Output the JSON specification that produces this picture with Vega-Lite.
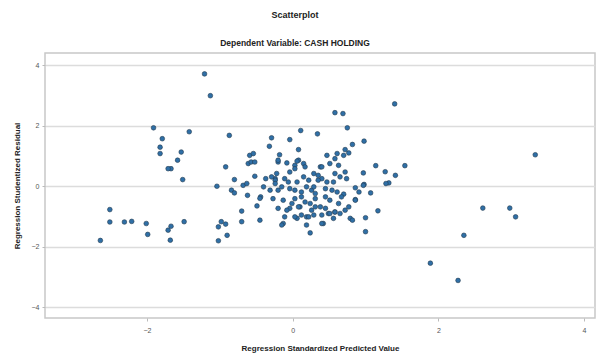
{
  "$schema": "https://vega.github.io/schema/vega-lite/v6.json",
  "width": 550,
  "height": 265,
  "autosize": {"type": "none"},
  "padding": {"left": 45, "top": 53, "right": 3, "bottom": 38},
  "background": "white",
  "title": {
    "text": "Scatterplot",
    "subtitle": "Dependent Variable: CASH HOLDING",
    "anchor": "middle",
    "dx": -25,
    "offset": 6,
    "font": "Liberation Sans",
    "fontSize": 9,
    "fontWeight": "bold",
    "color": "#222",
    "subtitleFont": "Liberation Sans",
    "subtitleFontSize": 8.5,
    "subtitleColor": "#222",
    "subtitleFontWeight": "bold",
    "subtitlePadding": 19
  },
  "config": {
    "view": {"stroke": "#c8c8c8", "strokeWidth": 1.5},
    "axis": {
      "labelFont": "Liberation Sans",
      "labelFontSize": 7,
      "labelColor": "#555",
      "titleFont": "Liberation Sans",
      "titleFontSize": 8,
      "titleFontWeight": "bold",
      "titleColor": "#222",
      "domain": false,
      "tickColor": "#bbb",
      "tickSize": 3,
      "gridColor": "#dcdcdc",
      "gridWidth": 1.5
    }
  },
  "data": {
    "values": [
      {"x": -1.21, "y": 3.71}, {"x": -1.13, "y": 2.99}, {"x": -1.91, "y": 1.93}, {"x": -1.42, "y": 1.80},
      {"x": -1.79, "y": 1.57}, {"x": -1.82, "y": 1.29}, {"x": -1.82, "y": 1.08}, {"x": -1.53, "y": 1.13},
      {"x": -1.58, "y": 0.86}, {"x": -1.67, "y": 0.58}, {"x": -1.71, "y": 0.58}, {"x": -1.51, "y": 0.22},
      {"x": -2.51, "y": -0.77}, {"x": -2.51, "y": -1.18}, {"x": -2.31, "y": -1.18}, {"x": -2.21, "y": -1.16},
      {"x": -2.01, "y": -1.23}, {"x": -1.99, "y": -1.59}, {"x": -2.64, "y": -1.79}, {"x": -1.67, "y": -1.32},
      {"x": -1.71, "y": -1.45}, {"x": -1.68, "y": -1.78}, {"x": -1.49, "y": -1.17}, {"x": -1.04, "y": 0.0},
      {"x": -0.92, "y": 0.64}, {"x": -0.87, "y": 1.68}, {"x": -1.02, "y": -1.34}, {"x": -0.98, "y": -1.17},
      {"x": -0.92, "y": -1.25}, {"x": -0.90, "y": -1.62}, {"x": -1.02, "y": -1.80}, {"x": -0.70, "y": -0.82},
      {"x": -0.70, "y": -1.17}, {"x": -0.45, "y": -1.12}, {"x": -0.49, "y": -0.65}, {"x": -0.80, "y": 0.22},
      {"x": -0.84, "y": -0.13}, {"x": -0.80, "y": -0.22}, {"x": -0.68, "y": 0.03}, {"x": -0.63, "y": 0.09},
      {"x": -0.62, "y": -0.30}, {"x": -0.59, "y": 1.02}, {"x": -0.54, "y": 1.08}, {"x": -0.61, "y": 0.75},
      {"x": -0.57, "y": 0.80}, {"x": -0.52, "y": 0.80}, {"x": -0.52, "y": 0.33}, {"x": -0.44, "y": -0.35},
      {"x": -0.40, "y": -0.02}, {"x": -0.37, "y": 0.25}, {"x": -0.32, "y": 1.32}, {"x": -0.29, "y": 1.60},
      {"x": -0.18, "y": 1.04}, {"x": -0.20, "y": 0.80}, {"x": -0.04, "y": 1.54}, {"x": 0.11, "y": 1.84},
      {"x": 0.08, "y": 1.21}, {"x": 0.34, "y": 1.73}, {"x": 0.08, "y": 0.86}, {"x": 0.03, "y": 0.69},
      {"x": 0.24, "y": -1.54}, {"x": -0.13, "y": -1.23}, {"x": 0.42, "y": -1.23}, {"x": 0.47, "y": 1.02},
      {"x": 0.38, "y": 0.64}, {"x": 0.49, "y": -0.90}, {"x": -0.45, "y": -0.40},
      {"x": 1.40, "y": 2.72}, {"x": 0.58, "y": 2.43}, {"x": 0.69, "y": 2.40}, {"x": 0.75, "y": 1.93},
      {"x": 0.98, "y": 1.49}, {"x": 0.82, "y": 1.38}, {"x": 0.72, "y": 1.21}, {"x": 0.77, "y": 1.10},
      {"x": 0.70, "y": 1.02}, {"x": 0.61, "y": 1.08}, {"x": 0.58, "y": 0.91}, {"x": 1.14, "y": 0.68},
      {"x": 1.54, "y": 0.68}, {"x": 1.27, "y": 0.48}, {"x": 0.97, "y": 0.44}, {"x": 1.41, "y": 0.36},
      {"x": 0.72, "y": 0.47}, {"x": 0.65, "y": 0.31}, {"x": 0.74, "y": 0.25}, {"x": 1.32, "y": 0.11},
      {"x": 1.28, "y": 0.09}, {"x": 0.98, "y": 0.06}, {"x": 0.86, "y": -0.05}, {"x": 0.91, "y": -0.19},
      {"x": 1.07, "y": -0.22}, {"x": 0.70, "y": -0.26}, {"x": 0.67, "y": -0.35}, {"x": 0.86, "y": -0.44},
      {"x": 1.17, "y": -0.81}, {"x": 1.00, "y": -1.04}, {"x": 1.00, "y": -1.50}, {"x": 0.77, "y": -0.68},
      {"x": 0.72, "y": -0.79}, {"x": 0.63, "y": -0.57}, {"x": 0.65, "y": -0.90}, {"x": 0.51, "y": -0.90},
      {"x": 0.58, "y": -0.85}, {"x": 0.79, "y": -1.06}, {"x": 0.82, "y": -1.12}, {"x": 0.29, "y": -0.95},
      {"x": 0.19, "y": -1.01}, {"x": 3.33, "y": 1.04}, {"x": 2.61, "y": -0.72}, {"x": 2.98, "y": -0.72},
      {"x": 3.06, "y": -1.01}, {"x": 2.35, "y": -1.62}, {"x": 1.89, "y": -2.54}, {"x": 2.27, "y": -3.11},
      {"x": -0.20, "y": 0.86}, {"x": -0.08, "y": 0.77}, {"x": 0.06, "y": 0.83}, {"x": 0.15, "y": 0.75},
      {"x": 0.17, "y": 0.64}, {"x": 0.03, "y": 0.58}, {"x": -0.04, "y": 0.47}, {"x": -0.22, "y": 0.42},
      {"x": 0.40, "y": 0.64}, {"x": 0.51, "y": 0.75}, {"x": 0.63, "y": 0.69}, {"x": 0.58, "y": 0.42},
      {"x": 0.29, "y": 0.42}, {"x": 0.35, "y": 0.36}, {"x": -0.24, "y": 0.25},
      {"x": -0.24, "y": 0.20}, {"x": -0.11, "y": 0.25}, {"x": 0.06, "y": 0.14}, {"x": 0.22, "y": 0.20},
      {"x": 0.40, "y": 0.25}, {"x": 0.56, "y": 0.14}, {"x": -0.20, "y": -0.13}, {"x": -0.04, "y": -0.08},
      {"x": 0.12, "y": -0.19}, {"x": 0.26, "y": -0.13}, {"x": 0.45, "y": -0.08}, {"x": 0.61, "y": -0.19},
      {"x": -0.27, "y": -0.41}, {"x": -0.13, "y": -0.46}, {"x": 0.03, "y": -0.41}, {"x": 0.17, "y": -0.52},
      {"x": 0.31, "y": -0.41}, {"x": 0.51, "y": -0.46}, {"x": -0.20, "y": -0.73}, {"x": -0.04, "y": -0.73},
      {"x": 0.10, "y": -0.68}, {"x": 0.26, "y": -0.79}, {"x": 0.45, "y": -0.73}, {"x": 0.58, "y": -0.85},
      {"x": -0.11, "y": -1.01}, {"x": 0.06, "y": -1.06}, {"x": 0.22, "y": -1.01}, {"x": 0.40, "y": -0.95},
      {"x": 0.56, "y": -1.06}, {"x": -0.15, "y": -1.28}, {"x": 0.19, "y": -1.28}, {"x": 0.40, "y": -1.23},
      {"x": 0.97, "y": 0.03}, {"x": 0.86, "y": -0.46},
      {"x": -0.29, "y": 0.31}, {"x": -0.24, "y": 0.09}, {"x": -0.31, "y": -0.13}, {"x": -0.15, "y": -0.02},
      {"x": -0.06, "y": 0.14}, {"x": 0.03, "y": -0.13}, {"x": 0.12, "y": -0.35}, {"x": 0.19, "y": -0.02},
      {"x": 0.31, "y": -0.24}, {"x": -0.01, "y": -0.57}, {"x": 0.08, "y": -0.68}, {"x": 0.31, "y": -0.68},
      {"x": -0.08, "y": -0.79}, {"x": 0.12, "y": -0.95}, {"x": 0.03, "y": -1.01},
      {"x": 0.15, "y": 0.31}, {"x": 0.29, "y": -0.02}, {"x": 0.24, "y": -0.57}, {"x": 0.35, "y": 0.20},
      {"x": 0.47, "y": 0.14}, {"x": 0.54, "y": -0.13}, {"x": 0.45, "y": -0.35}, {"x": 0.38, "y": -0.68}
    ]
  },
  "mark": {"type": "point", "filled": true, "size": 22, "fill": "#2f6fa6", "stroke": "#243a4f", "strokeWidth": 0.6, "opacity": 1},
  "encoding": {
    "x": {
      "field": "x", "type": "quantitative",
      "scale": {"domain": [-3.4, 4.15], "nice": false, "zero": false},
      "axis": {"values": [-2, 0, 2, 4], "grid": false, "title": "Regression Standardized Predicted Value", "titlePadding": 11, "labelPadding": 5}
    },
    "y": {
      "field": "y", "type": "quantitative",
      "scale": {"domain": [-4.35, 4.4], "nice": false, "zero": false},
      "axis": {"values": [-4, -2, 0, 2, 4], "grid": true, "title": "Regression Studentized Residual", "titlePadding": 10, "labelPadding": 3}
    }
  }
}
